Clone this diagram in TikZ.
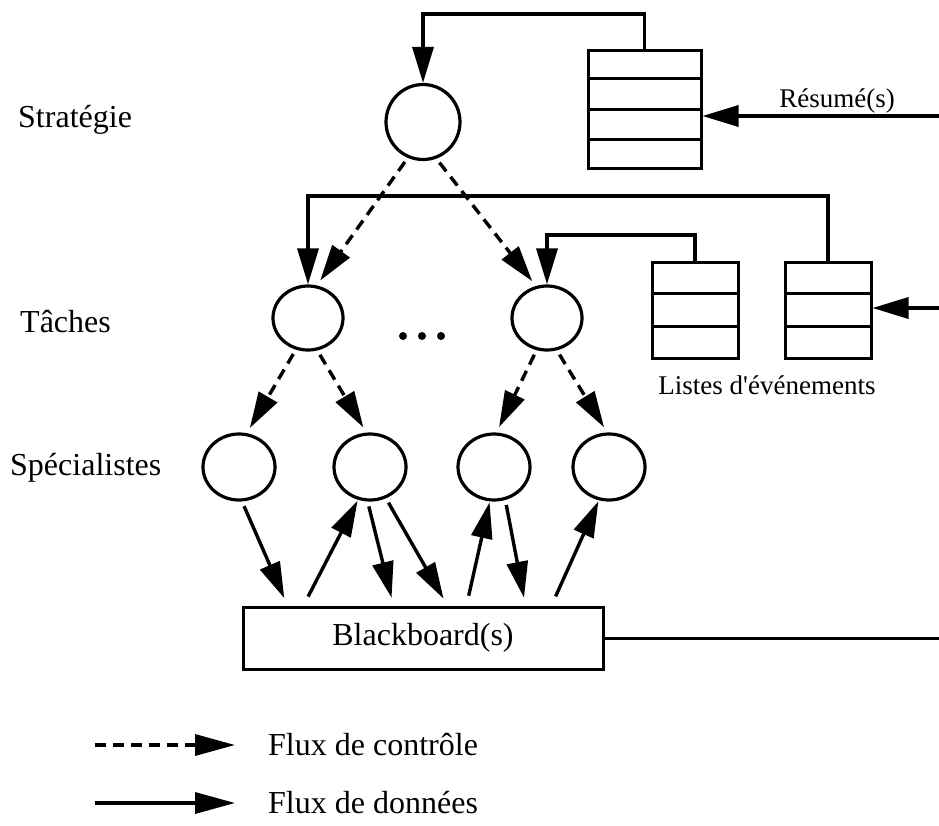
\documentclass[tikz,border=0pt]{standalone}
\usepackage{fontspec}
\setmainfont{Liberation Serif}
\usetikzlibrary{arrows.meta,shapes.geometric,calc}
\begin{document}
\begin{tikzpicture}[x=1pt,y=-1pt,
  proc/.style={ellipse, draw, line width=3.2pt, minimum width=72pt, minimum height=66pt, inner sep=0pt},
  data/.style={line width=3.4pt, -{Triangle[length=36pt,width=21pt]}},
  ctrl/.style={data, dash pattern=on 11pt off 7pt},
  link/.style={line width=3pt},
  listbox/.style={draw, line width=3pt, inner sep=0pt},
  big/.style={font=\fontsize{32}{38}\selectfont, inner sep=0pt},
  small/.style={font=\fontsize{27}{32}\selectfont, inner sep=0pt}]
\useasboundingbox (0,0) rectangle (939,825);

% level labels
\node[big, anchor=west] (lstrat) at (18,120) {Stratégie};
\node[big, anchor=west] (ltach) at (20,322) {Tâches};
\node[big, anchor=west] (lspec) at (10,468) {Spécialistes};

% processes
\node[proc, minimum width=74pt, minimum height=75pt] (strat) at (423,122) {};
\node[proc, minimum width=70pt, minimum height=64pt] (tL) at (308,318) {};
\node[proc, minimum width=70pt, minimum height=64pt] (tR) at (547,318) {};
\node[proc] (s1) at (239,467) {};
\node[proc] (s2) at (370,467) {};
\node[proc] (s3) at (494,467) {};
\node[proc] (s4) at (609,467) {};
\foreach \x in {403,422,441} \fill (\x,336) circle (4pt);

% lists
\node[listbox, minimum width=113pt, minimum height=118pt] (res) at (644.5,109) {};
\foreach \f in {0.25,0.5,0.75}
  \draw[link] ($(res.north west)!\f!(res.south west)$) -- ($(res.north east)!\f!(res.south east)$);
\node[listbox, minimum width=86pt, minimum height=96pt] (ev1) at (695,310) {};
\node[listbox, minimum width=86pt, minimum height=96pt] (ev2) at (828,310) {};
\foreach \b in {ev1,ev2}
  \foreach \f in {0.3333,0.6667}
    \draw[link] ($(\b.north west)!\f!(\b.south west)$) -- ($(\b.north east)!\f!(\b.south east)$);
\node[small] (evlab) at (767,385) {Listes d\textquotesingle événements};

% blackboard
\node[listbox, big, minimum width=360pt, minimum height=62pt] (bb) at (423,638) {Blackboard(s)};

% loops
\coordinate (ytop) at (0,14);
\coordinate (yl1) at (0,196);
\coordinate (yl2) at (0,235);
\draw[data] (res.north) -- (res.north |- ytop) -| (strat.north);
\draw[data] (ev2.north) -- (ev2.north |- yl1) -| (tL.north);
\draw[data] (ev1.north) -- (ev1.north |- yl2) -| (tR.north);

% inputs
\coordinate (inR) at (939,116);
\draw[data] (inR) -- (inR -| res.east);
\node[small, anchor=base] (reslab) at (837,107) {Résumé(s)};
\coordinate (inE) at (939,308);
\draw[data] (inE) -- (inE -| ev2.east);
\coordinate (outB) at (939,637);
\draw[link] (bb.east) -- (bb.east -| outB);

% control flow
\begin{scope}[shorten <=5pt, shorten >=6pt]
\draw[ctrl] (strat.-113) -- (tL.75);
\draw[ctrl] (strat.-70) -- (tR.109);
\draw[ctrl] (tL.-111) -- (s1.77);
\draw[ctrl] (tL.-74) -- (s2.96);
\draw[ctrl] (tR.-108) -- (s3.86);
\draw[ctrl] (tR.-73) -- (s4.93);
\end{scope}

% data flow
\draw[data, shorten <=5pt, shorten >=8pt] (s1.-85) -- ($(bb.north west)+(46,0)$);
\draw[data, shorten <=10pt, shorten >=1pt] ($(bb.north west)+(62,0)$) -- (s2.-110);
\draw[data, shorten <=5pt, shorten >=8pt] (s2.-94) -- ($(bb.north west)+(152,0)$);
\draw[data, shorten <=5pt, shorten >=8pt] (s2.-63) -- ($(bb.north west)+(206,0)$);
\draw[data, shorten <=10pt, shorten >=1pt] ($(bb.north west)+(225,0)$) -- (s3.-97);
\draw[data, shorten <=5pt, shorten >=8pt] (s3.-71) -- ($(bb.north west)+(284,0)$);
\draw[data, shorten <=10pt, shorten >=1pt] ($(bb.north west)+(310,0)$) -- (s4.-107);

% legend
\coordinate (l1a) at (95,745);
\coordinate (l1b) at (235,745);
\draw[ctrl, -{Triangle[length=40pt,width=21pt]}] (l1a) -- (l1b);
\node[big, anchor=west] (leg1) at (268,745) {Flux de contrôle};
\coordinate (l2a) at (95,803);
\coordinate (l2b) at (235,803);
\draw[data, -{Triangle[length=40pt,width=21pt]}] (l2a) -- (l2b);
\node[big, anchor=west] (leg2) at (268,803) {Flux de données};
\end{tikzpicture}
\end{document}
